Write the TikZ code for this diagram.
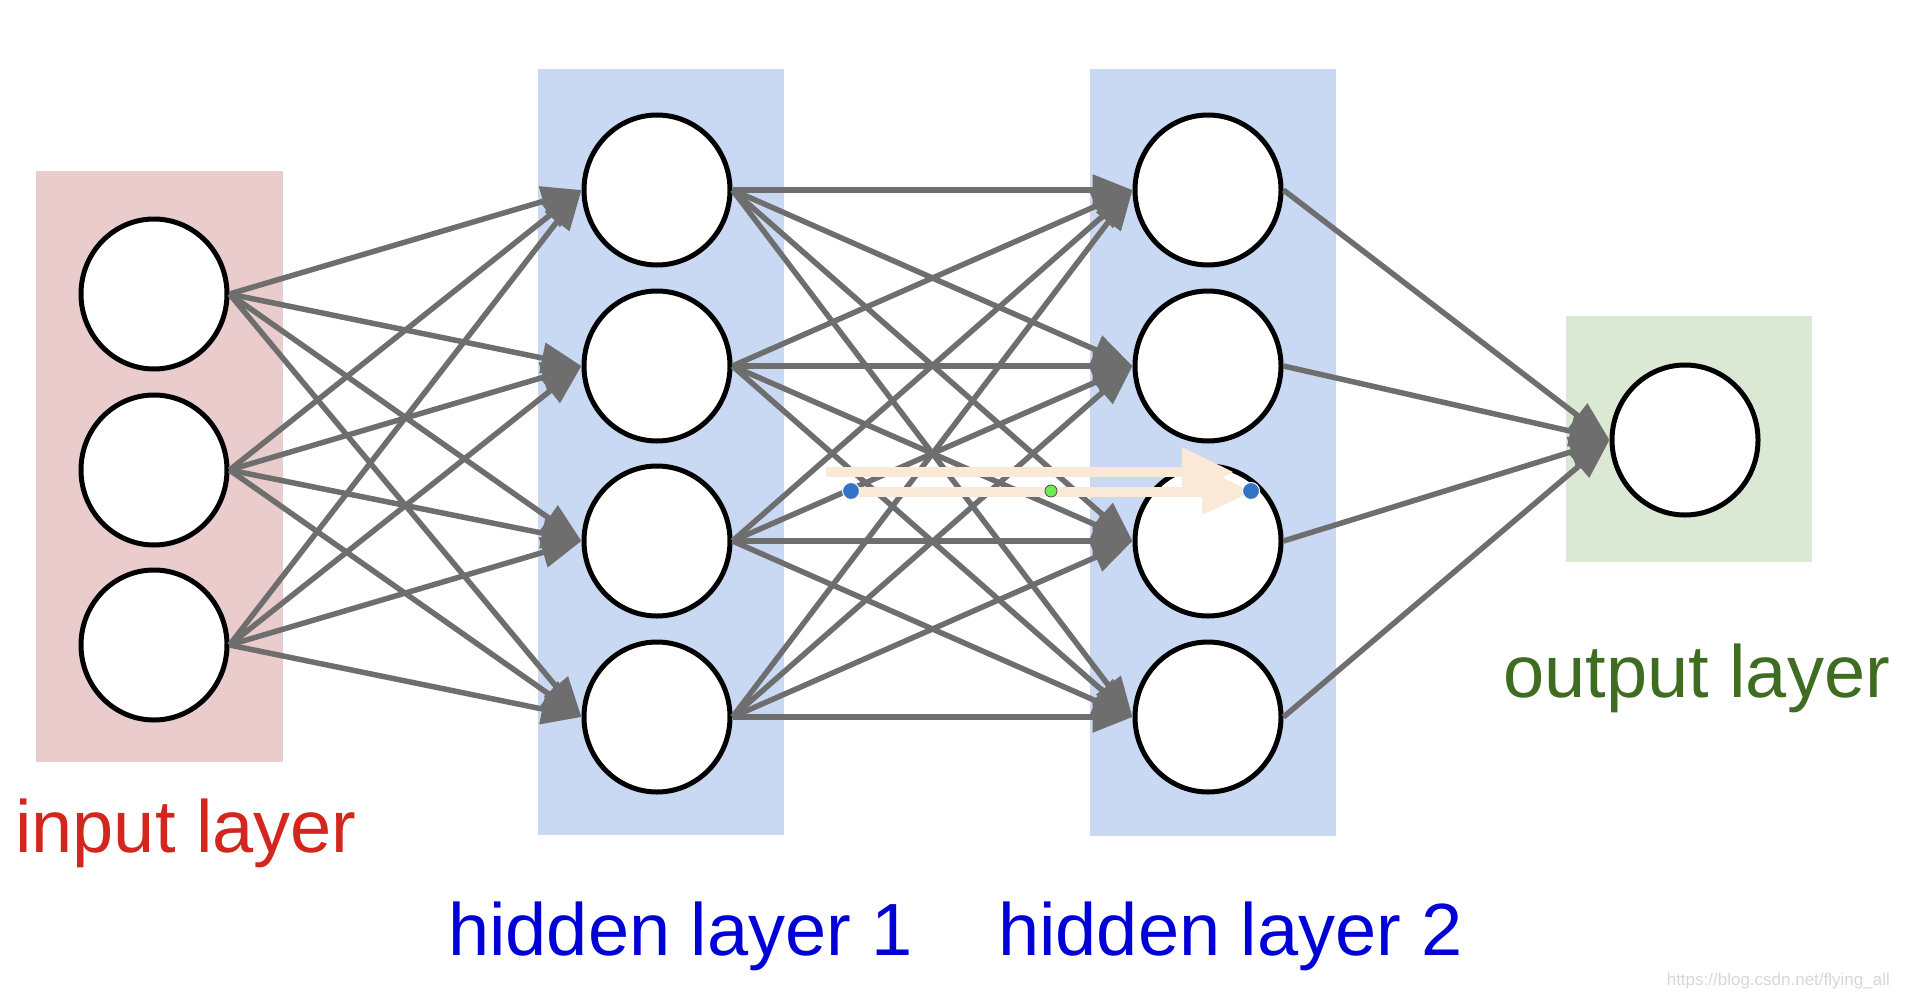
\documentclass[tikz,border=0pt]{standalone}
\usepackage{fontspec}
\setmainfont{Liberation Sans}
\usetikzlibrary{arrows.meta,shapes.geometric}
\definecolor{linegray}{RGB}{110,110,110}
\definecolor{boxpink}{RGB}{234,204,204}
\definecolor{boxblue}{RGB}{201,217,243}
\definecolor{boxgreen}{RGB}{218,232,212}
\definecolor{txtred}{RGB}{210,38,30}
\definecolor{txtblue}{RGB}{0,0,215}
\definecolor{txtgreen}{RGB}{62,108,32}
\definecolor{beige}{RGB}{251,233,215}
\definecolor{dotblue}{RGB}{50,115,200}
\definecolor{dotgreen}{RGB}{110,235,80}
\tikzset{
  neuron/.style={ellipse, draw=black, fill=white, line width=5pt, minimum width=146pt, minimum height=150pt, inner sep=0pt},
  conn/.style={draw=linegray, line width=5.5pt, -{Triangle[length=40pt,width=30pt]}},
  layerlabel/.style={anchor=base west, inner sep=0pt, font=\fontsize{74}{80}\selectfont},
  beigefill/.style={fill=beige, draw=none},
}
\begin{document}
\begin{tikzpicture}[x=1pt,y=-1pt]
\useasboundingbox (0,0) rectangle (1910,998);
% layer boxes
\fill[boxpink] (36,171) rectangle (283,762);
\fill[boxblue] (538,69) rectangle (784,835);
\fill[boxblue] (1090,69) rectangle (1336,836);
\fill[boxgreen] (1566,316) rectangle (1812,562);
% neurons
\node[neuron] (i1) at (154,294) {};
\node[neuron] (i2) at (154,470) {};
\node[neuron] (i3) at (154,645) {};
\node[neuron] (a1) at (657,190) {};
\node[neuron] (a2) at (657,366) {};
\node[neuron] (a3) at (657,541) {};
\node[neuron] (a4) at (657,717) {};
\node[neuron] (b1) at (1208,190) {};
\node[neuron] (b2) at (1208,366) {};
\node[neuron] (b3) at (1208,541) {};
\node[neuron] (b4) at (1208,717) {};
\node[neuron] (o1) at (1685,440) {};
% connectors
\foreach \s in {i1,i2,i3}{\foreach \t in {a1,a2,a3,a4}{\draw[conn] (\s.east) -- (\t.west);}}
\foreach \s in {a1,a2,a3,a4}{\foreach \t in {b1,b2,b3,b4}{\draw[conn] (\s.east) -- (\t.west);}}
\foreach \s in {b1,b2,b3,b4}{\draw[conn] (\s.east) -- (o1.west);}
% labels
\node[layerlabel, text=txtred] (lin) at (15,852) {input layer};
\node[layerlabel, text=txtblue] (lh1) at (448,955) {hidden layer 1};
\node[layerlabel, text=txtblue] (lh2) at (998,955) {hidden layer 2};
\node[layerlabel, text=txtgreen] (lout) at (1503,697) {output layer};
\node[anchor=base east, inner sep=0pt, text={rgb,255:red,215;green,215;blue,215}, font=\fontsize{17}{19}\selectfont] (wm) at (1890,985) {https://blog.csdn.net/flying\_all};
% annotation arrow
\fill[beigefill] (826,467) rectangle (1182,477);
\fill[beigefill] (1182,447) -- (1233,472) -- (1182,497) -- cycle;
\fill[beigefill] (850,487) rectangle (1202,497);
\fill[beigefill] (1202,467) -- (1251,492) -- (1202,515) -- cycle;
\coordinate (dl) at (851,491);
\coordinate (dr) at (1251,491);
\coordinate (dm) at (1051,491);
\fill[dotblue, draw=white, line width=1pt] (dl) circle (8.5);
\fill[dotblue, draw=white, line width=1pt] (dr) circle (8.5);
\filldraw[fill=dotgreen, draw=black!70, line width=0.8pt] (dm) circle (6);
\end{tikzpicture}
\end{document}
